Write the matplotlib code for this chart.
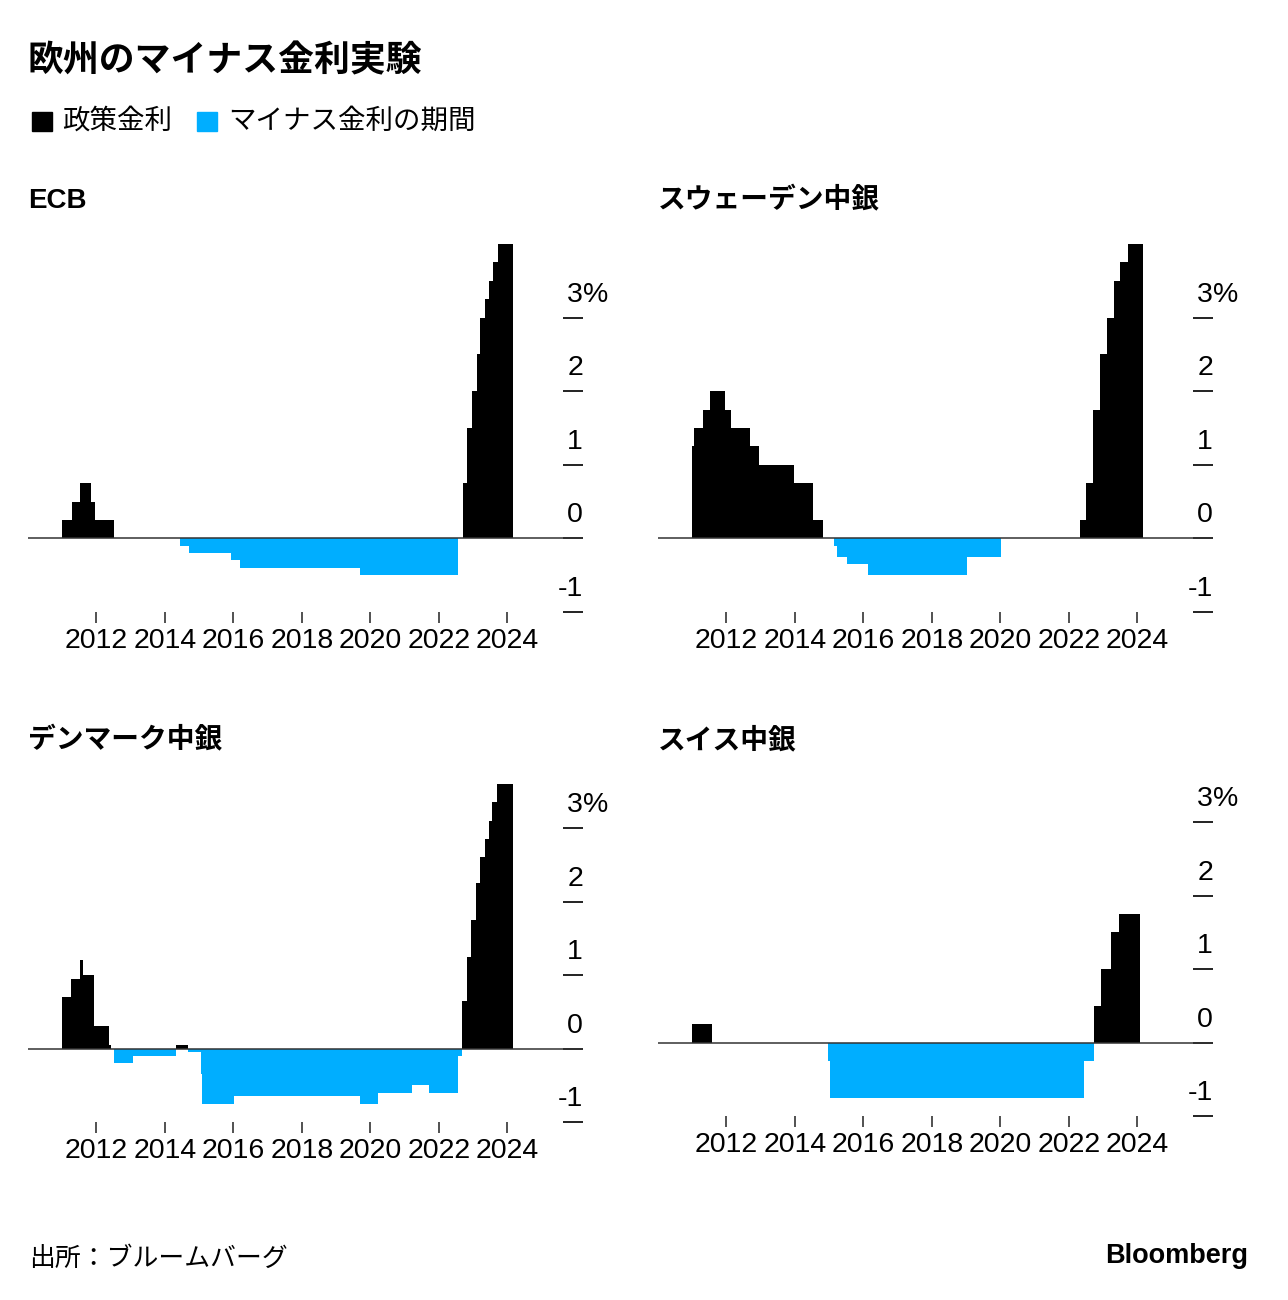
import matplotlib
matplotlib.use('Agg')
import matplotlib.pyplot as plt
import numpy as np
import pandas as pd

plt.rcParams['font.family'] = ['Liberation Sans', 'Noto Sans CJK JP']

BLUE = '#00AEFF'
JP = ['Noto Sans CJK JP', 'DejaVu Sans']

# policy rates, value holds from each date until the next one (%)
ecb_dates = ['2011-01-01', '2011-04-13', '2011-07-13', '2011-11-09', '2011-12-14',
             '2012-07-11', '2014-06-11', '2014-09-10', '2015-12-09', '2016-03-16',
             '2019-09-18', '2022-07-27', '2022-09-14', '2022-11-02', '2022-12-21',
             '2023-02-08', '2023-03-22', '2023-05-10', '2023-06-21', '2023-08-02',
             '2023-09-20', '2024-03-01']
ecb_rates = [0.25, 0.50, 0.75, 0.50, 0.25,
             0.00, -0.10, -0.20, -0.30, -0.40,
             -0.50, 0.00, 0.75, 1.50, 2.00,
             2.50, 3.00, 3.25, 3.50, 3.75,
             4.00, 4.00]

swe_dates = ['2011-01-01', '2011-01-25', '2011-04-27', '2011-07-13', '2011-12-21',
             '2012-02-22', '2012-09-12', '2012-12-19', '2013-12-18', '2014-07-09',
             '2014-10-29', '2015-02-18', '2015-03-25', '2015-07-08', '2016-02-17',
             '2019-01-09', '2020-01-08', '2022-05-04', '2022-07-06', '2022-09-21',
             '2022-11-30', '2023-02-15', '2023-04-26', '2023-07-05', '2023-09-27',
             '2024-03-01']
swe_rates = [1.25, 1.50, 1.75, 2.00, 1.75,
             1.50, 1.25, 1.00, 0.75, 0.25,
             0.00, -0.10, -0.25, -0.35, -0.50,
             -0.25, 0.00, 0.25, 0.75, 1.75,
             2.50, 3.00, 3.50, 3.75, 4.00,
             4.00]

dnk_dates = ['2011-01-01', '2011-04-08', '2011-07-08', '2011-08-12', '2011-12-01',
             '2012-05-15', '2012-06-01', '2012-07-06', '2013-01-25', '2014-04-25',
             '2014-09-05', '2015-01-20', '2015-01-22', '2015-01-29', '2015-02-05',
             '2016-01-08', '2019-09-13', '2020-03-20', '2021-03-26', '2021-09-24',
             '2022-07-22', '2022-09-09', '2022-10-28', '2022-12-16', '2023-02-03',
             '2023-03-17', '2023-05-05', '2023-06-16', '2023-07-28', '2023-09-15',
             '2024-03-01']
dnk_rates = [0.70, 0.95, 1.20, 1.00, 0.30,
             0.05, 0.00, -0.20, -0.10, 0.05,
             -0.05, -0.20, -0.35, -0.50, -0.75,
             -0.65, -0.75, -0.60, -0.50, -0.60,
             -0.10, 0.65, 1.25, 1.75, 2.25,
             2.60, 2.85, 3.10, 3.35, 3.60,
             3.60]

che_dates = ['2011-01-01', '2011-08-03', '2014-12-18', '2015-01-15', '2022-06-16',
             '2022-09-22', '2022-12-15', '2023-03-23', '2023-06-22', '2024-02-05']
che_rates = [0.25, 0.00, -0.25, -0.75, -0.25,
             0.50, 1.00, 1.50, 1.75, 1.75]

panels = [
    ('ECB', ecb_dates, ecb_rates, 4.0, (28, 244, 583, 612), (28, 201)),
    ('スウェーデン中銀', swe_dates, swe_rates, 4.0, (658, 244, 1213, 612), (658, 201)),
    ('デンマーク中銀', dnk_dates, dnk_rates, 3.6, (28, 784, 583, 1122), (28, 741)),
    ('スイス中銀', che_dates, che_rates, 3.6, (658, 778, 1213, 1116), (658, 741)),
]

year_ticks = [2012, 2014, 2016, 2018, 2020, 2022, 2024]
y_ticks = [-1, 0, 1, 2, 3]

W, H = 1288, 1300
fig = plt.figure(figsize=(W / 100, H / 100), dpi=100)

for name, dates, rates, ymax, (l, t, r, b), (tx, ty) in panels:
    ax = fig.add_axes([l / W, 1 - b / H, (r - l) / W, (b - t) / H])
    x = pd.to_datetime(dates)
    v = np.array(rates)
    ax.fill_between(x, np.maximum(v, 0), 0, step='post', color='black', lw=0)
    ax.fill_between(x, np.minimum(v, 0), 0, step='post', color=BLUE, lw=0)
    ax.axhline(0, color='#333333', lw=1.1, zorder=3)

    ax.set_xlim(pd.Timestamp('2010-01-01'), pd.Timestamp('2026-03-20'))
    ax.set_ylim(-1, ymax)
    for s in ax.spines.values():
        s.set_visible(False)

    ax.set_xticks(pd.to_datetime([f'{y}-01-01' for y in year_ticks]))
    ax.set_xticklabels([str(y) for y in year_ticks])
    ax.tick_params(axis='x', direction='out', length=8, width=1.1, color='#222222',
                   pad=3.5, labelsize=20.5)

    ax.yaxis.tick_right()
    ax.set_yticks(y_ticks)
    ax.tick_params(axis='y', direction='in', length=14.4, width=1.4, color='#222222',
                   labelright=False)
    for yv in y_ticks:
        ax.annotate(str(yv), xy=(1, yv), xycoords=('axes fraction', 'data'),
                    xytext=(0, 11.5), textcoords='offset points',
                    ha='right', va='baseline', fontsize=20.5)
        if yv == y_ticks[-1]:
            ax.annotate('%', xy=(1, yv), xycoords=('axes fraction', 'data'),
                        xytext=(0, 11.5), textcoords='offset points',
                        ha='left', va='baseline', fontsize=20.5)

    fig.text(tx / W, 1 - ty / H, name, fontsize=20, fontweight='bold',
             ha='left', va='center')

# title and legend
fig.text(28 / W, 1 - 61 / H, '欧州のマイナス金利実験', fontsize=25.8, fontweight='bold',
         family=JP, ha='left', va='center')
fig.patches.append(plt.Rectangle((32 / W, 1 - 131 / H), 20 / W, 19 / H,
                                 transform=fig.transFigure, color='black'))
fig.text(62 / W, 1 - 121 / H, '政策金利', fontsize=19.8, family=JP,
         ha='left', va='center')
fig.patches.append(plt.Rectangle((197 / W, 1 - 131 / H), 20 / W, 19 / H,
                                 transform=fig.transFigure, color=BLUE))
fig.text(228 / W, 1 - 121 / H, 'マイナス金利の期間', fontsize=19.8, family=JP,
         ha='left', va='center')

# footer
fig.text(29 / W, 1 - 1258 / H, '出所：ブルームバーグ', fontsize=18.6, family=JP,
         ha='left', va='center')
fig.text(1248 / W, 1 - 1263 / H, 'Bloomberg', fontsize=19.5, fontweight='bold',
         ha='right', va='baseline')

fig.savefig('out.png', dpi=100)
